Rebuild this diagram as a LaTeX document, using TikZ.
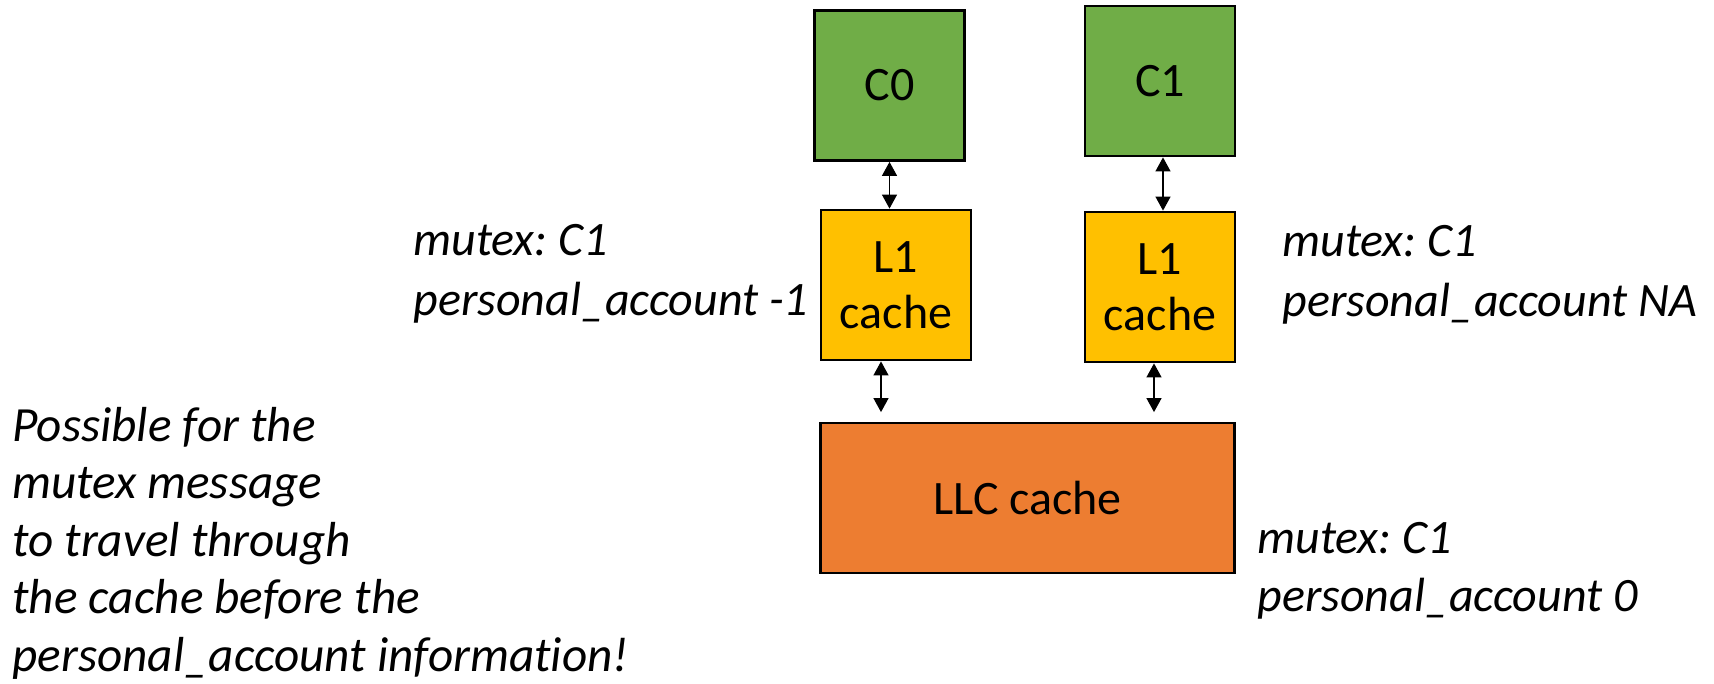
\documentclass[tikz,border=0pt]{standalone}
\usepackage{fontspec}
\setmainfont{Carlito}[Ligatures=NoCommon]
\usetikzlibrary{arrows.meta}
\definecolor{cgreen}{HTML}{70AD47}
\definecolor{cyellow}{HTML}{FFC000}
\definecolor{corange}{HTML}{ED7D31}
\frenchspacing
\begin{document}
\begin{tikzpicture}[x=0.5pt,y=-0.5pt,
  box/.style={draw=black, line width=1.4pt, inner sep=0pt, align=center,
    minimum width=75pt, minimum height=75pt,
    font=\fontsize{24}{28}\selectfont},
  lbl/.style={anchor=base west, inner sep=0pt, font=\fontsize{24}{29}\selectfont\itshape},
  para/.style={lbl, font=\fontsize{24.6}{29}\selectfont\itshape},
  link/.style={line width=0.6pt, {Triangle[width=7.5pt,length=7pt]}-{Triangle[width=7.5pt,length=7pt]}}]
\useasboundingbox (0,0) rectangle (1714,684);

% boxes
\node[box, fill=cgreen]  (C0)  at (889.5,85.5) {C0};
\node[box, fill=cgreen]  (C1)  at (1160,81)    {C1};
\node[box, fill=cyellow] (L1l) at (896,285)    {L1\\cache};
\node[box, fill=cyellow] (L1r) at (1160,287)   {L1\\cache};
\node[box, fill=corange, minimum width=207pt] (LLC) at (1027.5,498) {LLC cache};

% connectors
\coordinate (t1) at (C0.south);
\coordinate (t1e) at (t1 |- L1l.north);
\coordinate (t2) at ([xshift=1.5pt]C1.south);
\coordinate (t2e) at (t2 |- L1r.north);
\coordinate (b1) at ([xshift=-7.5pt]L1l.south);
\coordinate (b1e) at ([yshift=4.75pt]b1 |- LLC.north);
\coordinate (b2) at ([xshift=-3pt]L1r.south);
\coordinate (b2e) at ([yshift=4.75pt]b2 |- LLC.north);
\draw[link] (t1) -- (t1e);
\draw[link] (t2) -- (t2e);
\draw[link] (b1) -- (b1e);
\draw[link] (b2) -- (b2e);

% labels
\node[lbl] (la1) at (413,256) {mutex: C1};
\node[lbl] (la2) at (413,316) {personal\_account -1};
\node[lbl] (ra1) at (1282,257) {mutex: C1};
\node[lbl] (ra2) at (1282,317) {personal\_account NA};
\node[lbl] (lc1) at (1257,553) {mutex: C1};
\node[lbl] (lc2) at (1257,611) {personal\_account 0};

\node[para] (p1) at (12,441) {Possible for the};
\node[para] (p2) at (12,498.5) {mutex message};
\node[para] (p3) at (12,556) {to travel through};
\node[para] (p4) at (12,613.5) {the cache before the};
\node[para] (p5) at (12,671) {personal\_account information!};
\end{tikzpicture}
\end{document}
